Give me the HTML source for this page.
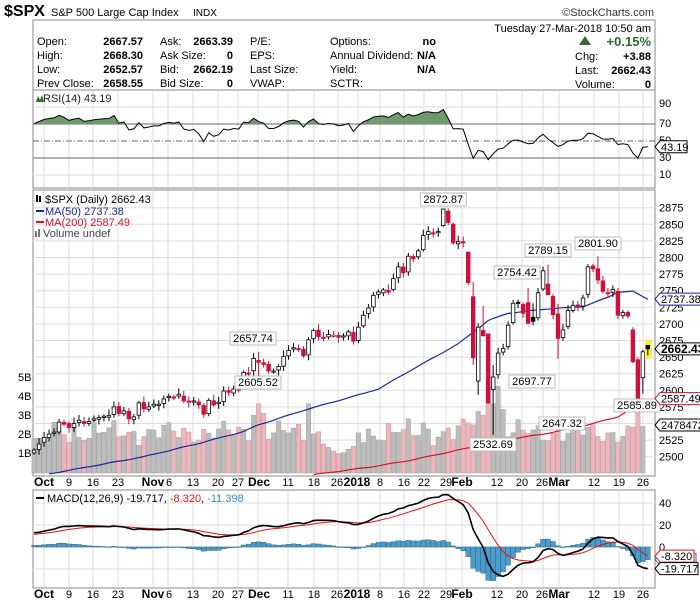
<!DOCTYPE html>
<html><head><meta charset="utf-8"><style>
body{margin:0;background:#fff;width:700px;height:603px;overflow:hidden;font-family:"Liberation Sans",sans-serif}
svg text{font-family:"Liberation Sans",sans-serif}
</style></head><body>
<svg id="s" width="700" height="603" xmlns="http://www.w3.org/2000/svg" font-size="11">
<rect width="700" height="603" fill="#fff"/>
<text x="4" y="16" font-size="16" font-weight="bold">$SPX</text>
<text x="51" y="16" font-size="11">S&amp;P 500 Large Cap Index</text>
<text x="193" y="16" font-size="10">INDX</text>
<text x="654" y="16" font-size="11" text-anchor="end" fill="#333">©StockCharts.com</text>
<rect x="33" y="20" width="622" height="70" fill="#fff" stroke="#888"/>
<g font-size="11">
<text x="651" y="32" text-anchor="end">Tuesday  27-Mar-2018  10:50 am</text>
<text x="37" y="45">Open:</text><text x="143" y="45" text-anchor="end" font-weight="bold">2667.57</text>
<text x="37" y="59">High:</text><text x="143" y="59" text-anchor="end" font-weight="bold">2668.30</text>
<text x="37" y="73">Low:</text><text x="143" y="73" text-anchor="end" font-weight="bold">2652.57</text>
<text x="37" y="87">Prev Close:</text><text x="143" y="87" text-anchor="end" font-weight="bold">2658.55</text>
<text x="160" y="45">Ask:</text><text x="233" y="45" text-anchor="end" font-weight="bold">2663.39</text>
<text x="160" y="59">Ask Size:</text><text x="233" y="59" text-anchor="end" font-weight="bold">0</text>
<text x="160" y="73">Bid:</text><text x="233" y="73" text-anchor="end" font-weight="bold">2662.19</text>
<text x="160" y="87">Bid Size:</text><text x="233" y="87" text-anchor="end" font-weight="bold">0</text>
<text x="250" y="45">P/E:</text><text x="250" y="59">EPS:</text><text x="250" y="73">Last Size:</text><text x="250" y="87">VWAP:</text>
<text x="330" y="45">Options:</text><text x="330" y="59">Annual Dividend:</text><text x="330" y="73">Yield:</text><text x="330" y="87">SCTR:</text>
<text x="436" y="45" text-anchor="end" font-weight="bold">no</text>
<text x="436" y="59" text-anchor="end" font-weight="bold">N/A</text>
<text x="436" y="73" text-anchor="end" font-weight="bold">N/A</text>
<path d="M579,45 L585,36 L591,45Z" fill="#2e6b2e"/>
<text x="651" y="46" text-anchor="end" font-weight="bold" font-size="13" fill="#2e6b2e">+0.15%</text>
<text x="575" y="60">Chg:</text><text x="651" y="60" text-anchor="end" font-weight="bold">+3.88</text>
<text x="575" y="74">Last:</text><text x="651" y="74" text-anchor="end" font-weight="bold">2662.43</text>
<text x="575" y="88">Volume:</text><text x="651" y="88" text-anchor="end" font-weight="bold">0</text>
</g>
<g id="g"></g>
</svg>
<script>
const S=document.getElementById('g');let h='';
const X=i=>69+4.99*i, L=33, R=655;
const c=[2510,2519,2529,2534,2537,2552,2549,2544,2550,2555,2550,2553,2557,2559,2561,2562,2575,2565,2569,2557,2560,2581,2572,2575,
2579,2579,2587,2591,2590,2594,2584,2582,2584,2578,2564,2585,2578,2582,2599,2597,2602,2601,2627,2626,2648,
2642,2639,2629,2629,2636,2651,2660,2664,2662,2652,2676,2690,2681,2679,2684,2683,2680,2682,2688,2674,
2695,2713,2724,2743,2748,2751,2748,2768,2786,2777,2802,2798,2810,2833,2839,2837,2839,2873,2853,2822,2824,
2822,2762,2649,2695,2682,2581,2620,2656,2663,2698,2731,2732,2716,2701,2704,2747,2780,2744,2714,
2678,2691,2720,2728,2727,2739,2786,2783,2766,2749,2747,2752,2713,2717,2712,2643,2588,2658,2662.43];
const N=c.length, i0=-7;
const py=p=>207.7+(2875-p)*0.664;
const vx=[44,69,93,118,153,168,193,218,238,258,288,314,338,358,380,404,424,446,462,497,522,543,559,594,619,643];
function grid(t,b){for(const x of vx)h+=`<line x1="${x}" y1="${t}" x2="${x}" y2="${b}" stroke="#ddd"/>`;}
h+=`<rect x="${L}" y="90" width="${R-L}" height="98" fill="#fff" stroke="#888"/>`;grid(91,187);
const ry=v=>158-(v-30)*0.85;
for(const v of [90,10])h+=`<line x1="${L}" x2="${R}" y1="${ry(v)}" y2="${ry(v)}" stroke="#ddd"/>`;
h+=`<line x1="${L}" x2="${R}" y1="${ry(70)}" y2="${ry(70)}" stroke="#666"/><line x1="${L}" x2="${R}" y1="${ry(30)}" y2="${ry(30)}" stroke="#666"/>`;
h+=`<line x1="${L}" x2="${R}" y1="${ry(50)}" y2="${ry(50)}" stroke="#666" stroke-dasharray="6,2,1,2"/>`;
let ag=5.5,al=2.3,rsi=[];
for(let k=0;k<N;k++){if(k>0){const d=c[k]-c[k-1];ag=(ag*13+Math.max(d,0))/14;al=(al*13+Math.max(-d,0))/14;}rsi.push(100-100/(1+ag/al));}
let rp=rsi.map((v,k)=>X(k+i0).toFixed(1)+','+ry(v).toFixed(1)).join(' ');
h+=`<clipPath id="c70"><rect x="${L}" y="90" width="${R-L}" height="${ry(70)-90}"/></clipPath>`;
h+=`<polygon clip-path="url(#c70)" points="${X(i0)},${ry(70)} ${rp} ${X(N-1+i0)},${ry(70)}" fill="#6e9a6e"/>`;
h+=`<polyline points="${rp}" fill="none" stroke="#000"/>`;
[[90,107],[70,127],[50,144],[30,161],[10,178]].forEach(a=>h+=`<text x="659" y="${a[1]}" font-size="11">${a[0]}</text>`);
h+=`<path d="M655,${ry(43.19)} l5,-6 h27 v12 h-27z" fill="#fff" stroke="#000"/><text x="661" y="${ry(43.19)+4}" font-size="11">43.19</text>`;
h+=`<text x="43" y="102" font-size="11" fill="#222">RSI(14) 43.19</text><path d="M36,102 l2,-6 l2,4 l2,-5 l2,7z" fill="#2e6b2e"/>`;
h+=`<rect x="${L}" y="190" width="${R-L}" height="286" fill="#fff" stroke="#888"/>`;grid(191,475);
for(let p=2500;p<=2875;p+=25){h+=`<line x1="${L}" x2="${R}" y1="${py(p)}" y2="${py(p)}" stroke="#ddd"/>`;h+=`<text x="659" y="${py(p)+4}" font-size="11">${p}</text>`;}
const vy0=473,vs=19.25;
for(let k=0;k<N-1;k++){let v=2.1+0.35*Math.sin(k*1.7)+0.25*Math.sin(k*0.53)+0.15*Math.cos(k*3.1);
 const x=X(k+i0);
 if(k>=59&&k<=64)v=1.2+0.2*Math.sin(k);
 const sp={44:3.0,45:3.6,46:3.1,55:3.6,78:2.6,86:2.8,87:2.6,88:2.5,89:3.2,90:3.0,91:4.5,92:3.6,93:4.5,94:3.3,121:3.6};if(sp[k])v=sp[k];
 if(k<4)v=1.8;
 const dn=k>0&&c[k]<c[k-1];
 h+=`<rect x="${(x-2.2).toFixed(1)}" y="${(vy0-v*vs).toFixed(1)}" width="4.4" height="${(v*vs).toFixed(1)}" fill="${dn?'#e8b8bc':'#bdbdbd'}" stroke="${dn?'#d89aa0':'#a8a8a8'}" stroke-width="0.6"/>`;}
[['5B',377],['4B',396],['3B',415],['2B',434],['1B',453]].forEach(a=>h+=`<text x="18" y="${a[1]+4}" font-size="11">${a[0]}</text>`);
function interp(pts){let o=[];for(let k=0;k<pts.length-1;k++){const[a,va]=pts[k],[b,vb]=pts[k+1];for(let i=a;i<b;i++)o.push(X(i).toFixed(1)+','+py(va+(vb-va)*(i-a)/(b-a)+Math.sin(i*0.9)*0.4).toFixed(1));}const l=pts[pts.length-1];o.push(X(l[0]).toFixed(1)+','+py(l[1]).toFixed(1));return o.join(' ');}
const ma50=[[-4,2474],[15,2500],[26,2520],[35,2538],[38,2548],[48,2572],[58,2593],[62,2602],[68,2628],[78,2670],[84,2705],[88,2716],[95,2722],[103,2726],[108,2740],[110,2748],[113,2749],[116,2737]];
h+=`<polyline fill="none" stroke="#1a2a99" stroke-width="1.2" points="${interp(ma50)}"/>`;
h+=`<polyline fill="none" stroke="#d8102a" stroke-width="1.2" points="${interp([[49,2473],[60,2484],[68,2494],[78,2510],[88,2526],[95,2534],[103,2546],[110,2560],[116,2587]])}"/>`;
const spec={
 87:[2808,2809,2759],88:[2741,2763,2638],89:[2614,2701,2593],90:[2690,2727,2681],91:[2685,2685,2580],92:[2601,2638,2532.69],
 82:[2848,2872.87,2846],45:[2645,2657.74,2605.52],99:[2732,2754.42,2699],100:[2710,2731,2697.77],103:[2760,2789.15,2744],105:[2715,2730,2647.32],
 113:[2783,2801.90,2760],120:[2691,2695,2641],121:[2646,2650,2585.89],122:[2619,2661,2595],123:[2667.57,2668.3,2652.57]};
for(let k=0;k<N;k++){const x=X(k+i0),cl=c[k],pv=k?c[k-1]:2507;
 let o=pv+(cl-pv)*0.12+((k*7)%5-2)*0.8,hi=Math.max(o,cl)+3+(k*13)%7,lo=Math.min(o,cl)-3-(k*11)%6;
 if(spec[k]){[o,hi,lo]=spec[k];}
 const red=cl<pv,col=red?'#d0103a':'#000',hol=cl>o;
 if(k==N-1)h+=`<rect x="${x-3}" y="${py(2676)}" width="7" height="${py(2648)-py(2676)}" fill="#f4f040"/>`;
 h+=`<line x1="${x}" x2="${x}" y1="${py(hi)}" y2="${py(lo)}" stroke="${col}"/>`;
 const t=py(Math.max(o,cl)),b=Math.max(py(Math.min(o,cl)),t+1.2);
 h+=`<rect x="${(x-1.8).toFixed(1)}" y="${t.toFixed(1)}" width="3.6" height="${(b-t).toFixed(1)}" fill="${hol?'#fff':col}" stroke="${col}" stroke-width="0.8"/>`;}
function lab(x,y,t){const w=t.length*6+4;h+=`<rect x="${x-w/2}" y="${y-10}" width="${w}" height="13" fill="#fff" stroke="#bbb"/><text x="${x}" y="${y}" text-anchor="middle" font-size="11">${t}</text>`;}
lab(X(75),203,'2872.87');lab(253,342,'2657.74');lab(258,386,'2605.52');lab(493,448,'2532.69');
lab(517,276,'2754.42');lab(548,254,'2789.15');lab(598,247,'2801.90');lab(532,385,'2697.77');lab(562,427,'2647.32');lab(637,409,'2585.89');
function box(y,t,col,bold){h+=`<path d="M655,${y} l5,-6 h${t.length*6.5+3} v12 h-${t.length*6.5+3}z" fill="#fff" stroke="${col}"/><text x="661" y="${y+4}" font-size="${bold?12:11}" font-weight="${bold?'bold':'normal'}">${t}</text>`;}
box(py(2737.38),'2737.38','#1a2a99');box(py(2662.43),'2662.43','#000',1);box(py(2587.49),'2587.49','#d8102a');box(425,'2478472','#000');
h+=`<text x="45" y="203" font-size="11">$SPX (Daily) 2662.43</text><rect x="36" y="195" width="2" height="7" fill="#000"/><rect x="39" y="196" width="2" height="6" fill="#000"/>`;
h+=`<line x1="36" x2="44" y1="211" y2="211" stroke="#1a2a99" stroke-width="2"/><text x="45" y="215" font-size="11" fill="#1a2a99">MA(50) 2737.38</text>`;
h+=`<line x1="36" x2="44" y1="222" y2="222" stroke="#d8102a" stroke-width="2"/><text x="45" y="226" font-size="11" fill="#d8102a">MA(200) 2587.49</text>`;
h+=`<rect x="35" y="231" width="2" height="6" fill="#777"/><rect x="38" y="229" width="2" height="8" fill="#777"/><text x="43" y="237" font-size="11" fill="#444">Volume undef</text>`;
const xl=[['Oct',44,1],['9',69],['16',93],['23',118],['Nov',153,1],['6',169],['13',193],['20',218],['27',238],['Dec',259,1],['11',288],['18',314],['26',337],['2018',357,1],['8',380],['16',404],['22',424],['29',446],['Feb',462,1],['12',497],['20',522],['26',542],['Mar',559,1],['12',594],['19',619],['26',643]];
function xlab(y){for(const[t,x,b] of xl)h+=`<text x="${x}" y="${y}" text-anchor="middle" font-size="${b?12:11}" font-weight="${b?'bold':'normal'}">${t}</text>`;}
xlab(486);
h+=`<rect x="${L}" y="490" width="${R-L}" height="98" fill="#fff" stroke="#888"/>`;grid(491,587);
const my=v=>547-v*1.1;
for(const v of [40,20,0,-20])h+=`<line x1="${L}" x2="${R}" y1="${my(v)}" y2="${my(v)}" stroke="#ddd"/>`;
[[40,507],[20,529],[0,551]].forEach(a=>h+=`<text x="659" y="${a[1]}" font-size="11">${a[0]}</text>`);
let e12=c[0]-8,e26=c[0]-21,sg=11.5,M=[],G=[];
for(let k=0;k<N;k++){if(k){e12+=(c[k]-e12)*2/13;e26+=(c[k]-e26)*2/27;}const m=e12-e26;if(k)sg+=(m-sg)*0.2;M.push(m);G.push(sg);}
for(let k=0;k<N;k++){const hv=M[k]-G[k],x=X(k+i0);const a=my(Math.max(hv,0)),b=my(Math.min(hv,0));h+=`<rect x="${(x-2.4).toFixed(1)}" y="${a.toFixed(1)}" width="4.8" height="${Math.max(b-a,0.5).toFixed(1)}" fill="#4b9cc8" stroke="#2a6a90" stroke-width="0.5"/>`;}
h+=`<polyline fill="none" stroke="#e81010" stroke-width="1" points="${G.map((v,k)=>X(k+i0).toFixed(1)+','+my(v).toFixed(1)).join(' ')}"/>`;
h+=`<polyline fill="none" stroke="#000" stroke-width="1.6" points="${M.map((v,k)=>X(k+i0).toFixed(1)+','+my(v).toFixed(1)).join(' ')}"/>`;
h+=`<line x1="36" x2="44" y1="498" y2="498" stroke="#000" stroke-width="2"/><text x="47" y="502" font-size="11">MACD(12,26,9) -19.717, <tspan fill="#e81010">-8.320</tspan>, <tspan fill="#3a8fc0">-11.398</tspan></text>`;
h+=`<path d="M655,${my(-11.4)} l5,-6 h36 v12 h-36z" fill="#fff" stroke="#2a6a90"/>`;
h+=`<path d="M655,${my(-8.32)} l5,-6 h34 v12 h-34z" fill="#fff" stroke="#e81010"/><text x="661" y="${my(-8.32)+4}" font-size="11">-8.320</text>`;
h+=`<path d="M655,${my(-19.7)} l5,-6 h38 v12 h-38z" fill="#fff" stroke="#000"/><text x="661" y="${my(-19.7)+4}" font-size="11">-19.717</text>`;
xlab(598);
S.innerHTML=h;
</script>
</body></html>
